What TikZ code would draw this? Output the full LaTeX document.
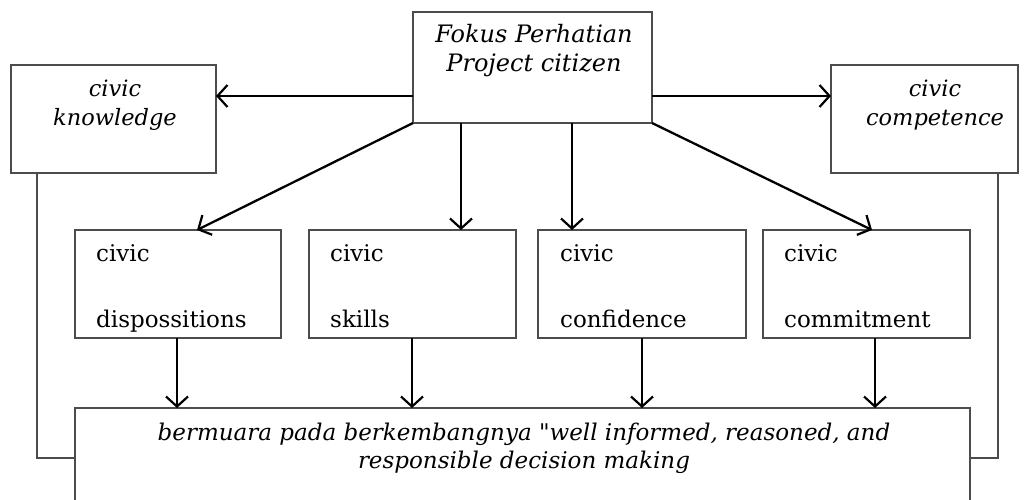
\documentclass[tikz,border=0pt]{standalone}
\usepackage{fontspec}
\setmainfont{DejaVu Serif}[Ligatures=TeXOff]
\usetikzlibrary{arrows.meta}
\begin{document}
\begin{tikzpicture}[x=1pt,y=-1pt,
  box/.style={draw=black!70, line width=1.5pt, inner sep=0pt, outer sep=0pt},
  arr/.style={-{Straight Barb[length=10pt,width=22pt,line width=2.2pt]}, line width=2.3pt, black},
  link/.style={draw=black!70, line width=1.6pt},
  txt/.style={anchor=base, inner sep=0pt, font=\fontsize{24}{28}\selectfont\itshape},
  stxt/.style={anchor=base, inner sep=0pt, font=\fontsize{22.5}{27}\selectfont\itshape},
  btxt/.style={anchor=base, inner sep=0pt, font=\fontsize{23}{27}\selectfont\itshape},
  ltxt/.style={anchor=base west, inner sep=0pt, font=\fontsize{23}{27}\selectfont}]
\useasboundingbox (0,0) rectangle (1027,500);
% boxes
\node[box, minimum width=239pt, minimum height=111pt] (top) at (532.5,67.5) {};
\node[box, minimum width=205pt, minimum height=108pt] (kn) at (113.5,119) {};
\node[box, minimum width=187pt, minimum height=108pt] (comp) at (924.5,119) {};
\node[box, minimum width=206pt, minimum height=108pt] (b1) at (178,284) {};
\node[box, minimum width=207pt, minimum height=108pt] (b2) at (412.5,284) {};
\node[box, minimum width=208pt, minimum height=108pt] (b3) at (642,284) {};
\node[box, minimum width=207pt, minimum height=108pt] (b4) at (866.5,284) {};
\node[box, minimum width=895pt, minimum height=110pt] (bot) at (522.5,463) {};
% texts
\node[txt] (t1) at (534,43) {Fokus Perhatian};
\node[txt] (t2) at (534,72) {Project citizen};
\node[stxt] (k1) at (115,97) {civic};
\node[stxt] (k2) at (115,125) {knowledge};
\node[stxt] (c1) at (935,97) {civic};
\node[stxt] (c2) at (935,125) {competence};
\node[ltxt] (d1) at (96,261) {civic};
\node[ltxt] (d2) at (96,327) {dispossitions};
\node[ltxt] (s1) at (330,261) {civic};
\node[ltxt] (s2) at (330,327) {skills};
\node[ltxt] (f1) at (560,261) {civic};
\node[ltxt] (f2) at (560,327) {confidence};
\node[ltxt] (m1) at (784,261) {civic};
\node[ltxt] (m2) at (784,327) {commitment};
\node[btxt] (w1) at (524,440) {bermuara pada berkembangnya "well informed, reasoned, and};
\node[btxt] (w2) at (524,468) {responsible decision making};
% helper coordinates
\coordinate (h) at (0,96);
\coordinate (L) at (37,458);
\coordinate (R) at (998,458);
% top arrows
\draw[arr] (top.west |- h) -- (kn.east |- h);
\draw[arr] (top.east |- h) -- (comp.west |- h);
\draw[arr] (top.south west) -- ([xshift=19pt]b1.north);
\draw[arr] ([xshift=-71.5pt]top.south) -- ([xshift=-71.5pt]top.south |- b2.north);
\draw[arr] ([xshift=39.5pt]top.south) -- ([xshift=39.5pt]top.south |- b3.north);
\draw[arr] (top.south east) -- ([xshift=5.5pt]b4.north);
% bottom arrows
\draw[arr] ([xshift=-1pt]b1.south) -- ([xshift=-1pt]b1.south |- bot.north);
\draw[arr] ([xshift=-0.5pt]b2.south) -- ([xshift=-0.5pt]b2.south |- bot.north);
\draw[arr] (b3.south) -- (b3.south |- bot.north);
\draw[arr] ([xshift=8.5pt]b4.south) -- ([xshift=8.5pt]b4.south |- bot.north);
% side links
\draw[link] (kn.south -| L) |- (bot.west |- L);
\draw[link] (comp.south -| R) |- (bot.east |- R);
\end{tikzpicture}
\end{document}
